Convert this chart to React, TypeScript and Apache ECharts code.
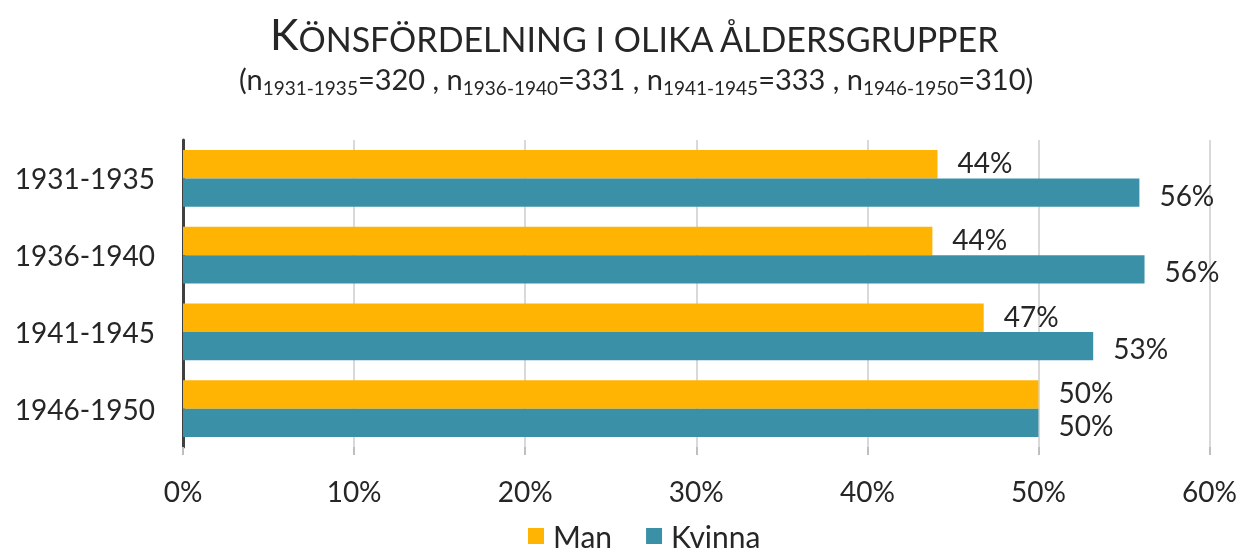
import React, { useEffect, useRef } from "react";
import * as echarts from "echarts";

const categories = ["1931-1935", "1936-1940", "1941-1945", "1946-1950"];
const manValues = [44.1, 43.8, 46.8, 50.0];
const kvinnaValues = [55.9, 56.2, 53.2, 50.0];
const groupN = [320, 331, 333, 310];
const xTicks = { min: 0, max: 60, interval: 10 };

const FONT = "Lato";
const TEXT = "#262626";

export default function App() {
  const ref = useRef<HTMLDivElement>(null);
  useEffect(() => {
    if (!ref.current) return;
    const chart = echarts.init(ref.current, null, { renderer: "svg" });
    const subParts: string[] = ["{m|(n}"];
    categories.forEach((c, i) => {
      subParts.push(`{s|${c}}`);
      subParts.push(`{m|=${groupN[i]}${i < categories.length - 1 ? " , n" : ")"}}`);
    });
    const labelFmt = (p: any) => `${Math.round(p.value)}%`;
    const labelBase = {
      show: true,
      position: "right",
      distance: 20,
      formatter: labelFmt,
      fontFamily: FONT,
      fontSize: 28,
      color: TEXT,
    };
    chart.setOption({
      animation: false,
      title: [
        {
          text: "{K|K}{r|ÖNSFÖRDELNING I OLIKA ÅLDERSGRUPPER}",
          left: 265,
          top: 6,
          textStyle: {
            fontWeight: "normal",
            rich: {
              K: { fontFamily: FONT, fontSize: 43, fontWeight: "normal", color: TEXT, verticalAlign: "bottom", lineHeight: 44 },
              r: { fontFamily: FONT, fontSize: 34, fontWeight: "normal", color: TEXT, verticalAlign: "bottom", lineHeight: 38 },
            },
          },
        },
        {
          text: subParts.join(""),
          left: 234,
          top: 54,
          textStyle: {
            fontWeight: "normal",
            rich: {
              m: { fontFamily: FONT, fontSize: 29, fontWeight: "normal", color: TEXT, lineHeight: 38, verticalAlign: "middle" },
              s: { fontFamily: FONT, fontSize: 19, fontWeight: "normal", color: TEXT, lineHeight: 24, verticalAlign: "bottom" },
            },
          },
        },
      ],
      legend: {
        bottom: -3,
        left: 523,
        icon: "rect",
        itemWidth: 16,
        itemHeight: 16,
        itemGap: 34,
        textStyle: { fontFamily: FONT, fontSize: 30, color: TEXT, padding: [0, 0, 0, 4] },
        data: ["Man", "Kvinna"],
      },
      grid: { left: 183, right: 30, top: 140, bottom: 106 },
      xAxis: {
        type: "value",
        min: xTicks.min,
        max: xTicks.max,
        interval: xTicks.interval,
        axisLine: { show: false },
        axisTick: { show: true, length: 8, lineStyle: { color: "#bfbfbf", width: 2 } },
        splitLine: { show: true, lineStyle: { color: "#d9d9d9", width: 2 } },
        axisLabel: {
          formatter: "{value}%",
          fontFamily: FONT,
          fontSize: 28,
          color: TEXT,
          margin: 30,
        },
      },
      yAxis: {
        type: "category",
        inverse: true,
        data: categories,
        axisLine: { show: true, lineStyle: { color: "#404040", width: 3 } },
        axisTick: { show: false },
        axisLabel: { fontFamily: FONT, fontSize: 28, color: TEXT, margin: 28 },
      },
      series: [
        {
          name: "Man",
          type: "bar",
          data: manValues,
          barGap: "0%",
          barCategoryGap: "26%",
          itemStyle: { color: "#FFB404" },
          label: { ...labelBase, offset: [0, -2] },
        },
        {
          name: "Kvinna",
          type: "bar",
          data: kvinnaValues,
          itemStyle: { color: "#3A91A7" },
          label: { ...labelBase, offset: [0, 2] },
        },
      ],
    });
    return () => chart.dispose();
  }, []);
  return (
    <div
      ref={ref}
      style={{ position: "fixed", left: 0, top: 0, width: 1240, height: 553 }}
    />
  );
}
